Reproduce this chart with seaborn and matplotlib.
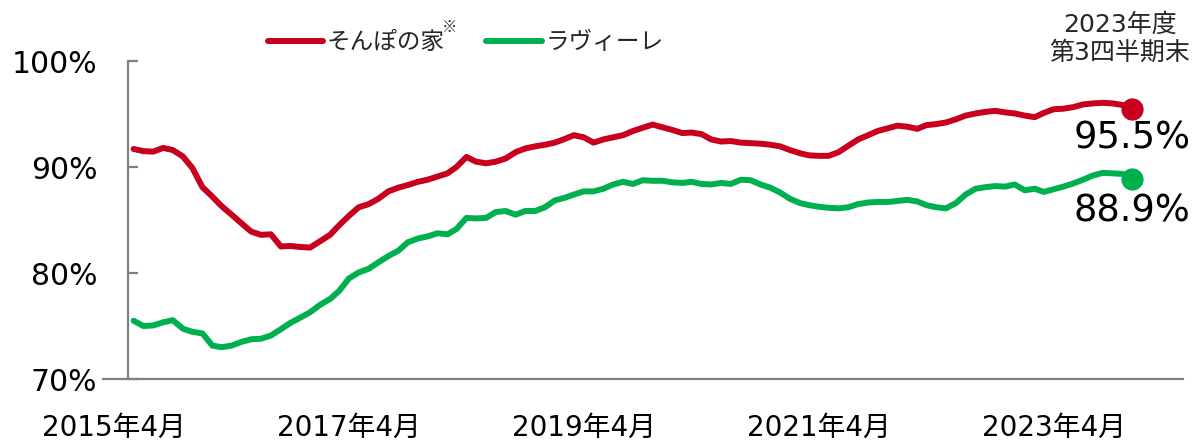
import pandas as pd
import numpy as np
import matplotlib
matplotlib.use("Agg")
import matplotlib.pyplot as plt
import matplotlib.dates as mdates
import seaborn as sns

# ---- data (monthly occupancy) ----
months = pd.date_range("2015-06-01", "2023-12-01", freq="MS")

sompo = [91.7, 91.5, 91.45, 91.8, 91.6, 91.0, 89.9, 88.1, 87.2, 86.3,
         85.5, 84.7, 83.9, 83.6, 83.65, 82.5, 82.55, 82.45, 82.4, 83.0,
         83.6, 84.5, 85.4, 86.2, 86.5, 87.0, 87.7, 88.05, 88.3, 88.6,
         88.8, 89.1, 89.4, 90.0, 90.95, 90.5, 90.35, 90.5, 90.8, 91.4,
         91.75, 91.95, 92.1, 92.3, 92.65, 93.0, 92.8, 92.3, 92.6, 92.8,
         93.0, 93.4, 93.7, 94.0, 93.75, 93.5, 93.2, 93.25, 93.1, 92.6,
         92.4, 92.45, 92.3, 92.25, 92.2, 92.1, 91.95, 91.6, 91.3, 91.1,
         91.05, 91.05, 91.4, 92.0, 92.6, 93.0, 93.4, 93.65, 93.9, 93.8,
         93.6, 93.95, 94.05, 94.2, 94.5, 94.85, 95.05, 95.2, 95.3, 95.15,
         95.05, 94.85, 94.7, 95.1, 95.45, 95.5, 95.65, 95.9, 96.0, 96.05,
         96.0, 95.85, 95.5]

laviere = [75.5, 75.0, 75.05, 75.35, 75.55, 74.75, 74.45, 74.3, 73.15, 73.0,
           73.15, 73.5, 73.75, 73.8, 74.1, 74.7, 75.3, 75.8, 76.3, 77.0,
           77.55, 78.3, 79.5, 80.05, 80.4, 81.0, 81.6, 82.1, 82.9, 83.25,
           83.45, 83.75, 83.65, 84.15, 85.2, 85.15, 85.2, 85.75, 85.85, 85.5,
           85.85, 85.85, 86.2, 86.85, 87.1, 87.4, 87.7, 87.7, 87.95, 88.35,
           88.6, 88.4, 88.75, 88.7, 88.7, 88.55, 88.5, 88.6, 88.4, 88.35,
           88.5, 88.4, 88.8, 88.75, 88.35, 88.05, 87.6, 87.0, 86.6, 86.4,
           86.25, 86.15, 86.1, 86.2, 86.5, 86.65, 86.7, 86.7, 86.8, 86.9,
           86.75, 86.4, 86.2, 86.1, 86.6, 87.4, 87.95, 88.1, 88.2, 88.15,
           88.35, 87.8, 87.95, 87.65, 87.9, 88.15, 88.45, 88.8, 89.2, 89.45,
           89.4, 89.35, 88.9]

series_names = ["そんぽの家", "ラヴィーレ"]
colors = ["#C8001E", "#00B04F"]
end_labels = ["95.5%", "88.9%"]

tick_dates = pd.to_datetime(["2015-04-01", "2017-04-01", "2019-04-01",
                             "2021-04-01", "2023-04-01"])
tick_labels = ["2015年4月", "2017年4月", "2019年4月", "2021年4月", "2023年4月"]
y_ticks = [70, 80, 90, 100]

df = pd.DataFrame({"month": list(months) * 2,
                   "rate": sompo + laviere,
                   "brand": [series_names[0]] * len(months) + [series_names[1]] * len(months)})

# ---- style ----
sns.set_theme(style="white")
plt.rcParams["font.family"] = ["DejaVu Sans", "Noto Sans CJK JP"]

fig = plt.figure(figsize=(12.01, 4.40), dpi=100)
ax = fig.add_axes([103 / 1201, 61 / 440, 1080 / 1201, 318 / 440])

sns.lineplot(data=df, x="month", y="rate", hue="brand", palette=colors,
             linewidth=4.3, ax=ax, legend=False)
for line in ax.get_lines():
    line.set_solid_capstyle("round")
    line.set_solid_joinstyle("round")

# end-point markers + value labels
offsets = [-21, -23]
for vals, c, lab, off in zip([sompo, laviere], colors, end_labels, offsets):
    ax.plot([months[-1]], [vals[-1]], "o", color=c, markersize=15, zorder=5)
    ax.annotate(lab, (months[-1], vals[-1]), xytext=(0, off),
                textcoords="offset points", ha="center", va="center",
                fontsize=26.5, color="black")

# axes limits / spines
month_days = 30.44
t0 = mdates.date2num(pd.Timestamp("2015-04-01"))
ax.set_xlim(t0 - 1.12 * month_days, t0 + 109.2 * month_days)
ax.set_ylim(70, 100)
for s in ["top", "right"]:
    ax.spines[s].set_visible(False)
ax.spines["left"].set_position(("data", t0 + 1.43 * month_days))
for s in ["left", "bottom"]:
    ax.spines[s].set_color("#808080")
    ax.spines[s].set_linewidth(1.6)

ax.set_yticks(y_ticks)
ax.set_yticklabels([f"{v}%" for v in y_ticks])
ax.set_xticks(tick_dates)
ax.set_xticklabels(tick_labels)
ax.tick_params(axis="y", direction="in", length=7, width=1.6, color="#808080",
               labelsize=21.5, pad=22, labelcolor="black", left=True)
ax.tick_params(axis="x", length=0, labelsize=20, pad=25, labelcolor="black")
ax.set_xlabel("")
ax.set_ylabel("")

# legend
handles = [plt.Line2D([], [], color=c, linewidth=4.3, solid_capstyle="round")
           for c in colors]
fig.legend(handles, series_names, loc="center left", bbox_to_anchor=(268 / 1201, 1 - 42 / 440),
           ncol=2, frameon=False, fontsize=17, handlelength=2.35, handletextpad=0.15,
           columnspacing=1.75, borderpad=0, borderaxespad=0)
fig.text(449 / 1201, 1 - 27 / 440, "※", fontsize=11, ha="center", va="center",
         family=["Noto Sans CJK JP", "DejaVu Sans"])

fig.text(1120 / 1201, 1 - 38.5 / 440, "2023年度\n第3四半期末", ha="center", va="center",
         fontsize=18, linespacing=1.2)

fig.savefig("out.png", dpi=100)
